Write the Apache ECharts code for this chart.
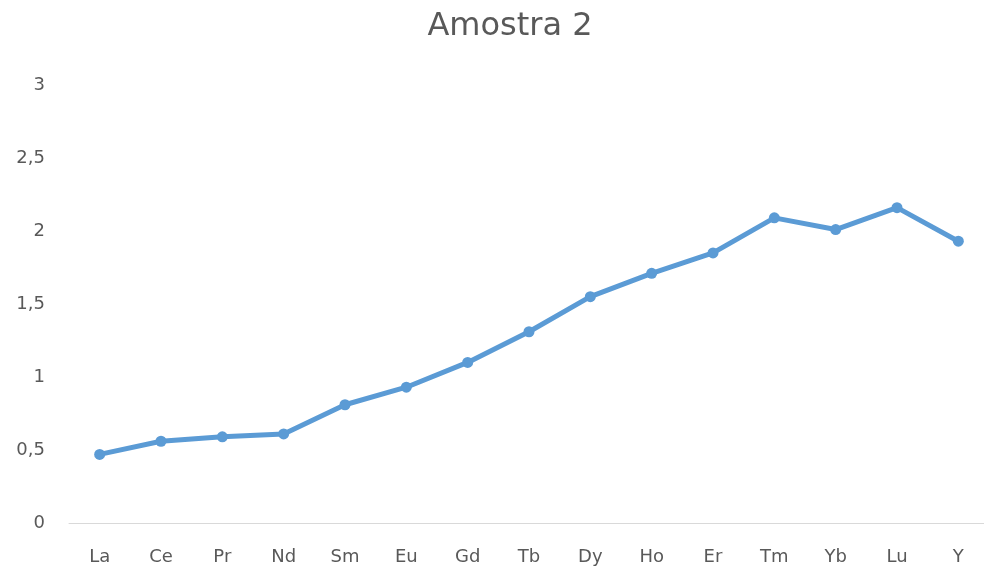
<!DOCTYPE html>
<html>
<head>
<meta charset="utf-8">
<script src="https://cdn.jsdelivr.net/npm/echarts@6/dist/echarts.min.js"></script>
<style>
  html, body { margin: 0; padding: 0; background: #fff; overflow: hidden; }
  #chart { width: 990px; height: 569px; }
</style>
</head>
<body>
<div id="chart"></div>
<script>
// Rare-earth elements on the category axis
const elements = ['La', 'Ce', 'Pr', 'Nd', 'Sm', 'Eu', 'Gd', 'Tb', 'Dy', 'Ho', 'Er', 'Tm', 'Yb', 'Lu', 'Y'];
// Normalised values for sample 2
const amostra2 = [0.47, 0.56, 0.59, 0.61, 0.81, 0.93, 1.10, 1.31, 1.55, 1.71, 1.85, 2.09, 2.01, 2.16, 1.93];
const chartTitle = 'Amostra 2';

const font = '"DejaVu Sans", sans-serif';
const chart = echarts.init(document.getElementById('chart'));
chart.setOption({
  animation: false,
  title: {
    text: chartTitle,
    left: 505,
    textAlign: 'center',
    top: 6,
    textStyle: { fontFamily: font, fontSize: 32, fontWeight: 'normal', color: '#595959' }
  },
  grid: { left: 69, right: 1, top: 85, bottom: 46 },
  xAxis: {
    type: 'category',
    data: elements,
    boundaryGap: true,
    axisLine: { lineStyle: { color: '#d9d9d9', width: 1 } },
    axisTick: { show: false },
    axisLabel: { fontFamily: font, fontSize: 18, color: '#595959', margin: 25 }
  },
  yAxis: {
    type: 'value',
    min: 0,
    max: 3,
    interval: 0.5,
    axisLine: { show: false },
    axisTick: { show: false },
    splitLine: { show: false },
    axisLabel: {
      fontFamily: font, fontSize: 18, color: '#595959', margin: 24,
      formatter: v => String(v).replace('.', ',')
    }
  },
  series: [{
    type: 'line',
    data: amostra2,
    symbol: 'circle',
    symbolSize: 11,
    lineStyle: { color: '#5b9bd5', width: 5, cap: 'round', join: 'round' },
    itemStyle: { color: '#5b9bd5' }
  }]
});
</script>
</body>
</html>
